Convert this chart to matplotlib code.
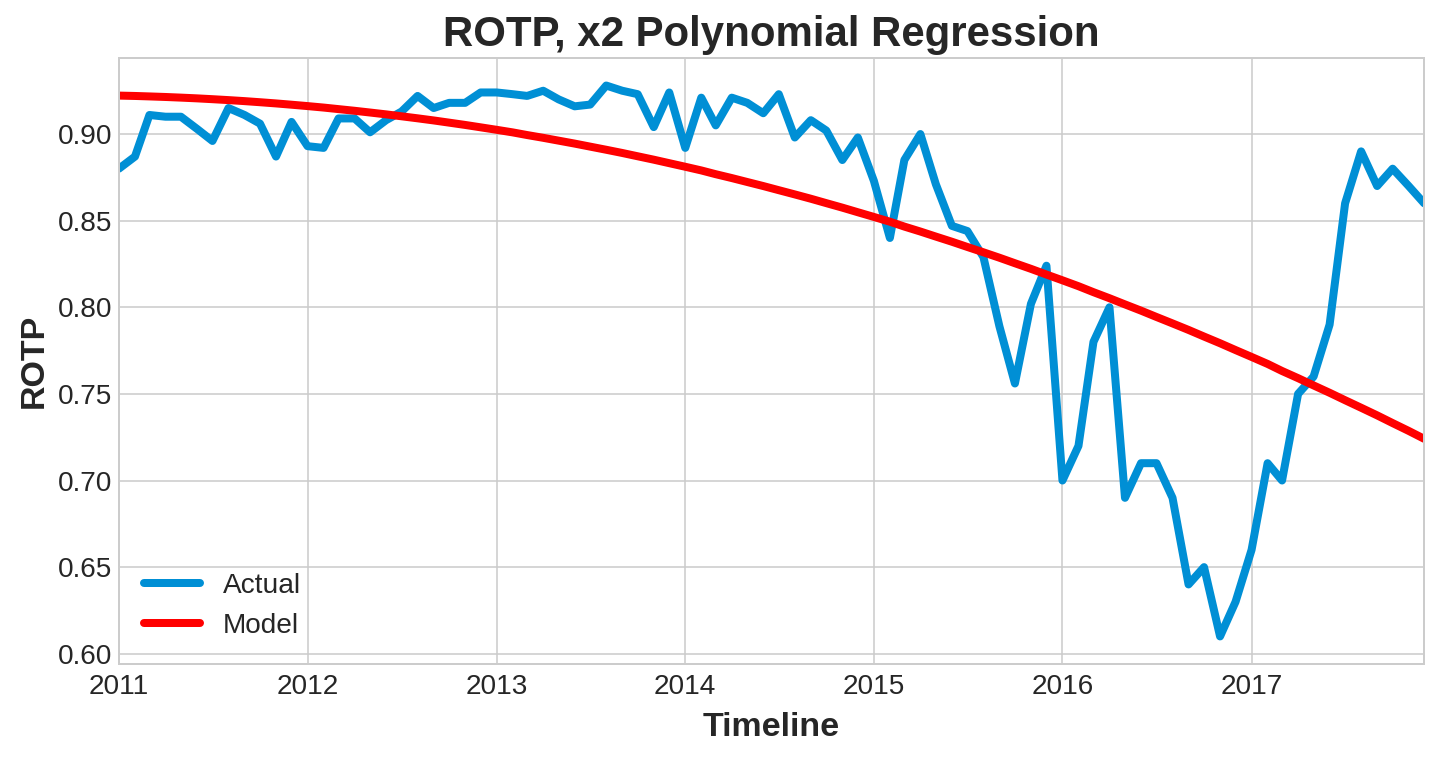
"""
ROTP monthly series with a degree-2 polynomial regression fit
"""
import numpy as np
import pandas as pd
import matplotlib
matplotlib.use("Agg")
import matplotlib.pyplot as plt
import matplotlib.dates as mdates

# monthly ROTP values, Jan 2011 .. Dec 2017
rotp_2011 = [0.880, 0.887, 0.911, 0.910, 0.910, 0.903, 0.896, 0.915, 0.911, 0.906, 0.887, 0.907]
rotp_2012 = [0.893, 0.892, 0.909, 0.909, 0.901, 0.908, 0.913, 0.922, 0.915, 0.918, 0.918, 0.924]
rotp_2013 = [0.924, 0.923, 0.922, 0.925, 0.920, 0.916, 0.917, 0.928, 0.925, 0.923, 0.904, 0.924]
rotp_2014 = [0.892, 0.921, 0.905, 0.921, 0.918, 0.912, 0.923, 0.898, 0.908, 0.902, 0.885, 0.898]
rotp_2015 = [0.873, 0.840, 0.885, 0.900, 0.871, 0.847, 0.844, 0.829, 0.789, 0.756, 0.802, 0.824]
rotp_2016 = [0.700, 0.720, 0.780, 0.800, 0.690, 0.710, 0.710, 0.690, 0.640, 0.650, 0.610, 0.630]
rotp_2017 = [0.660, 0.710, 0.700, 0.750, 0.760, 0.790, 0.860, 0.890, 0.870, 0.880, 0.870, 0.860]

actual = np.array(rotp_2011 + rotp_2012 + rotp_2013 + rotp_2014
                  + rotp_2015 + rotp_2016 + rotp_2017)
dates = pd.date_range("2011-01-01", periods=len(actual), freq="MS")

# x2 polynomial regression on the month index
t = np.arange(len(actual))
coefs = np.polyfit(t, actual, 2)
model = np.polyval(coefs, t)

plt.style.use("seaborn-v0_8-whitegrid")
plt.rcParams["font.family"] = ["Liberation Sans", "DejaVu Sans"]

fig, ax = plt.subplots(figsize=(10, 757 / 144), dpi=144)
fig.subplots_adjust(left=0.0826, right=0.989, top=0.9234, bottom=0.1229)

ax.plot(dates, actual, color="#008fd5", linewidth=4, label="Actual")
ax.plot(dates, model, color="red", linewidth=4, label="Model")

ax.set_xlim(dates[0], dates[-1])
ax.xaxis.set_major_locator(mdates.YearLocator())
ax.xaxis.set_major_formatter(mdates.DateFormatter("%Y"))
ax.tick_params(labelsize=14)
ax.tick_params(axis="x", pad=5)
for sp in ax.spines.values():
    sp.set_visible(True)
    sp.set_color("0.8")

ax.set_title("ROTP, x2 Polynomial Regression", fontsize=21, fontweight="bold")
ax.set_xlabel("Timeline", fontsize=17, fontweight="bold", labelpad=6)
ax.set_ylabel("ROTP", fontsize=17, fontweight="bold")
ax.legend(loc="lower left", fontsize=14)

fig.savefig("out.png", dpi=144)
